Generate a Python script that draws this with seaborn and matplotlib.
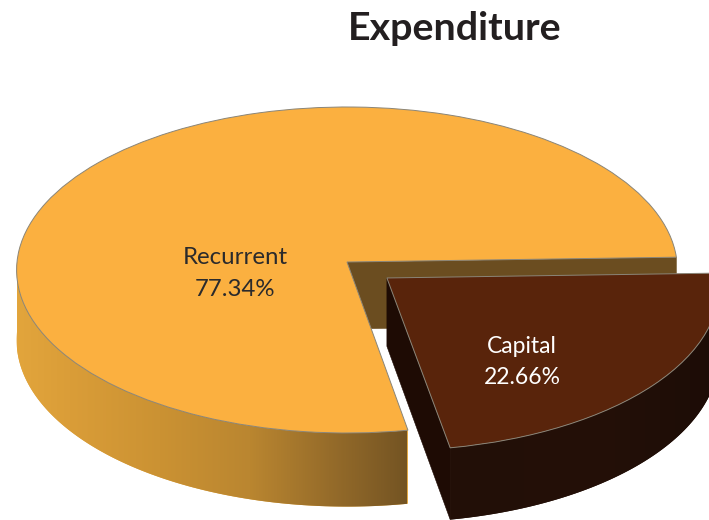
#!/usr/bin/env python3

import matplotlib

matplotlib.use("Agg")
import matplotlib.pylab as plt
import matplotlib.transforms as mtransforms
import numpy as np
import seaborn as sns

sns.set_theme(style="white")
plt.rcParams["font.family"] = ["Lato", "DejaVu Sans"]

# Values
categories = ["Recurrent", "Capital"]
shares = [77.34, 22.66]
explode = [0, 0.155]
title = "Expenditure"

top_colors = ["#fbb040", "#59240b"]
label_colors = ["#2a2a2c", "#ffffff"]

# Pixel layout of the tilted disk
cx, cy = 347.0, 262.0
rx, ry = 330.0, 162.6
tilt = 0.049
start_angle = 1.7


class DiskProjection(mtransforms.Transform):
    """
    Map the flat pie circle to the tilted disk (in pixel data coords).
    """

    input_dims = 2
    output_dims = 2
    is_separable = False
    has_inverse = False

    def transform_non_affine(self, values):
        values = np.asarray(values, dtype=float)
        w = 1 + tilt * values[:, 1]
        return np.column_stack([cx + rx * values[:, 0] / w, cy - ry * values[:, 1] / w])


proj = DiskProjection()


def drop(points, depth):
    """
    Top of the wall for points on the flat circle, and their bottom.
    """
    top = proj.transform_non_affine(points)
    w = 1 + tilt * points[:, 1]
    bottom = top + np.column_stack([np.zeros(len(top)), depth / w])
    return top, bottom


def arc_points(wedge, thetas):
    t = np.radians(thetas)
    return np.column_stack(
        [
            wedge.center[0] + wedge.r * np.cos(t),
            wedge.center[1] + wedge.r * np.sin(t),
        ]
    )


def draw_wall(ax, points, color, depth, zorder):
    top, bottom = drop(points, depth)
    ax.fill(
        np.r_[top[:, 0], bottom[::-1, 0]],
        np.r_[top[:, 1], bottom[::-1, 1]],
        color=color,
        lw=0.4,
        zorder=zorder,
    )


def draw_shaded_wall(ax, points, stops_x, stops_rgb, depth, zorder):
    """
    Rim of a slice: a left to right gradient clipped to the wall outline.
    """
    top, bottom = drop(points, depth)
    outline = ax.fill(
        np.r_[top[:, 0], bottom[::-1, 0]],
        np.r_[top[:, 1], bottom[::-1, 1]],
        facecolor=np.array(stops_rgb[0]) / 255,
        edgecolor="none",
        zorder=zorder,
    )[0]
    xs = np.linspace(stops_x[0], stops_x[-1], 300)
    gradient = np.column_stack([np.interp(xs, stops_x, c) / 255 for c in zip(*stops_rgb)])
    image = ax.imshow(
        gradient[np.newaxis, :, :],
        extent=(stops_x[0], stops_x[-1], bottom[:, 1].max(), top[:, 1].min()),
        aspect="auto",
        zorder=zorder + 0.5,
    )
    image.set_clip_path(outline)


def main():
    fig, ax = plt.subplots(figsize=(7.09, 5.2), dpi=100)
    fig.subplots_adjust(left=0, right=1, bottom=0, top=1)

    wedges, _ = ax.pie(
        shares,
        explode=explode,
        startangle=start_angle,
        colors=top_colors,
        wedgeprops={"edgecolor": "#8a8578", "linewidth": 0.7},
    )
    recurrent, capital = wedges
    for wedge, zorder in zip(wedges, [3, 7]):
        wedge.set_transform(proj + ax.transData)
        wedge.set_zorder(zorder)

    # The flat face behind the cut, then the rim of the big slice
    back = arc_points(recurrent, np.array([recurrent.theta1]))
    centre = np.array([recurrent.center])
    draw_wall(ax, np.r_[centre, back], "#6b4d20", 67, 1)
    draw_shaded_wall(
        ax,
        arc_points(recurrent, np.linspace(180, recurrent.theta2, 140)),
        [17, 70, 160, 250, 330, 407],
        [
            (226, 165, 60),
            (218, 157, 56),
            (203, 146, 51),
            (186, 134, 48),
            (150, 108, 42),
            (116, 84, 35),
        ],
        70,
        2,
    )

    # Small slice, pulled out of the pie
    left = np.r_[[capital.center], arc_points(capital, np.array([capital.theta1]))]
    draw_wall(ax, left, "#1e0b04", 68, 4)
    draw_shaded_wall(
        ax,
        arc_points(capital, np.linspace(capital.theta1, capital.theta2, 80)),
        [447, 600, 720],
        [(34, 15, 7), (36, 16, 8), (28, 12, 6)],
        68,
        5,
    )

    ax.set(xlim=(0, 709), ylim=(520, 0), aspect="auto")
    ax.axis("off")

    ax.text(
        235, 273.5, f"{categories[0]}\n{shares[0]:.2f}%",
        ha="center", va="center", color=label_colors[0], fontsize=17.3, zorder=8,
        linespacing=1.65,
    )
    ax.text(
        522, 362, f"{categories[1]}\n{shares[1]:.2f}%",
        ha="center", va="center", color=label_colors[1], fontsize=16.5, zorder=8,
        linespacing=1.6,
    )
    ax.text(
        455, 28, title,
        ha="center", va="center", color="#231f20", fontsize=28.4, fontweight="bold",
    )

    plt.savefig("out.png", dpi=100)
    plt.clf()


if __name__ == "__main__":
    main()
